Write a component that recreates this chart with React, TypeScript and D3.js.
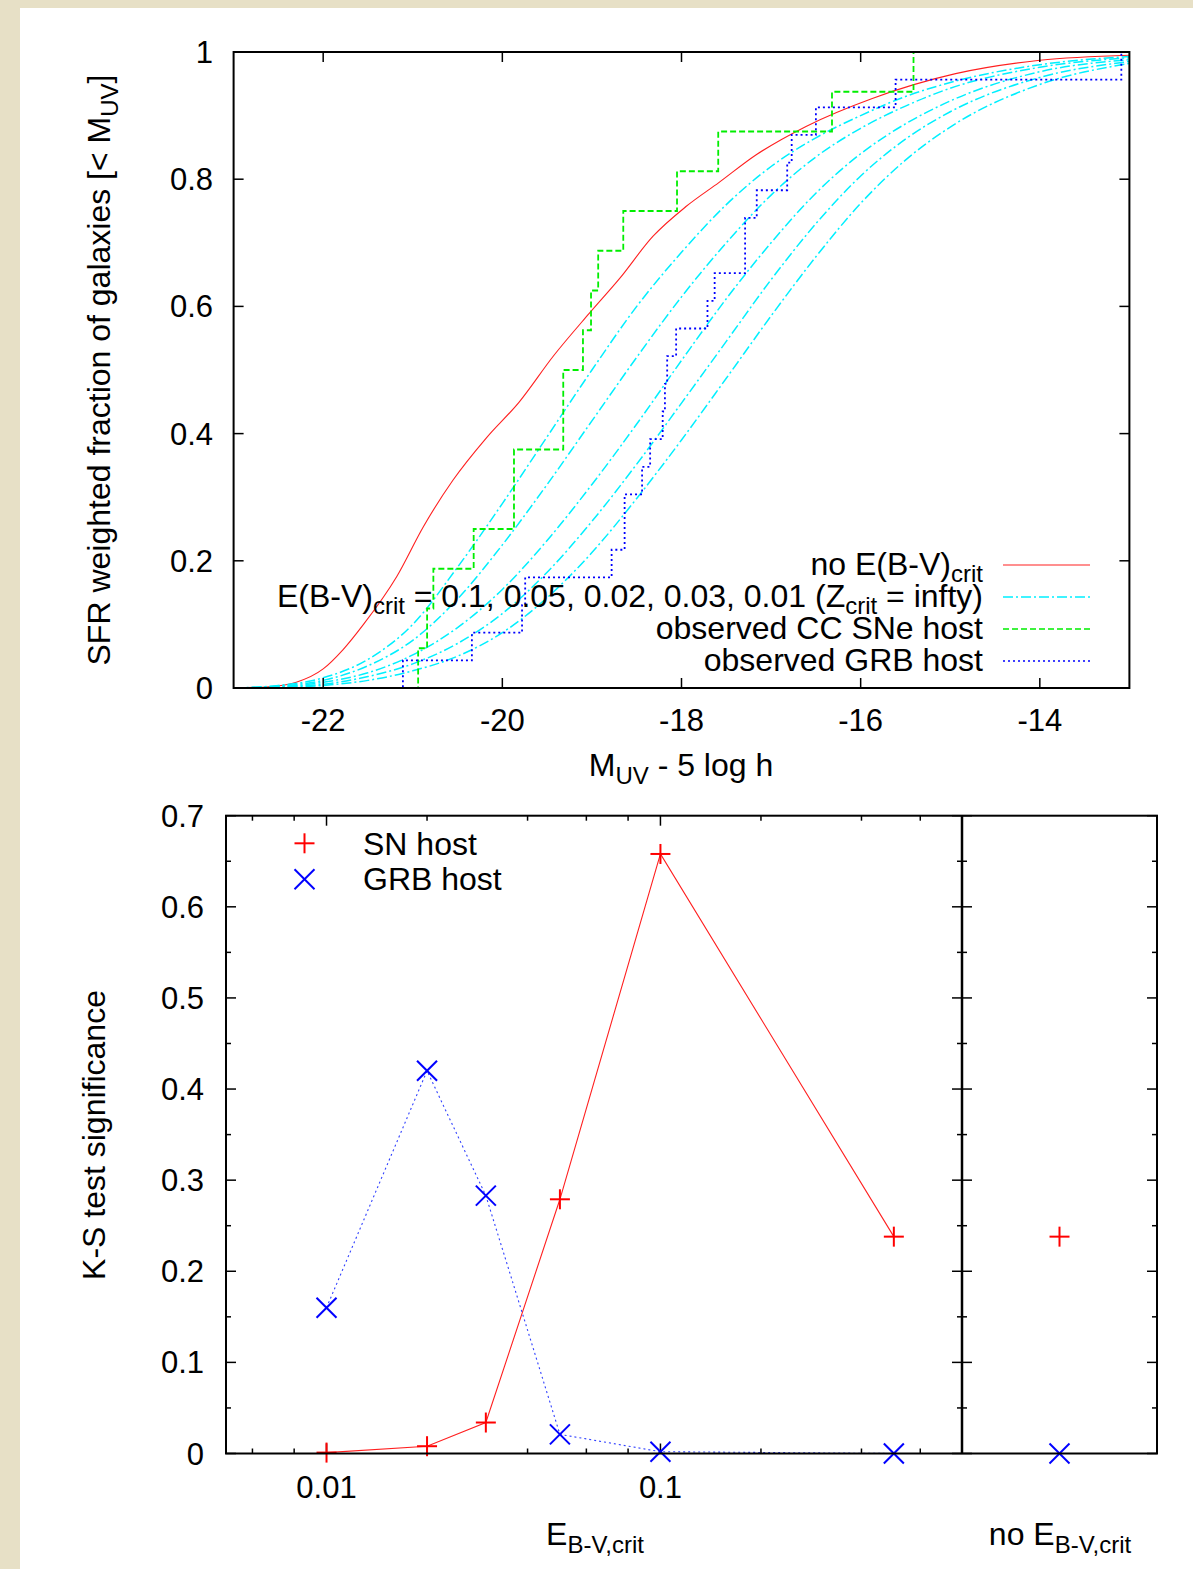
import React from "react";
import * as d3 from "d3";

// ---------- Top panel data ----------
const TOP_X_TICKS = [-22, -20, -18, -16, -14];
const TOP_X_TICK_LABELS = ["-22", "-20", "-18", "-16", "-14"];
const TOP_Y_TICKS = [0, 0.2, 0.4, 0.6, 0.8, 1];
const TOP_Y_TICK_LABELS = ["0", "0.2", "0.4", "0.6", "0.8", "1"];

// no E(B-V)crit (red)
const RED_CURVE: [number, number][] = [
  [-23, 0], [-22.6, 0.002], [-22.3, 0.009], [-22.0, 0.03], [-21.78, 0.06], [-21.55, 0.1],
  [-21.18, 0.175], [-20.88, 0.254], [-20.55, 0.327], [-20.18, 0.393], [-19.81, 0.45],
  [-19.43, 0.522], [-19.03, 0.589], [-18.69, 0.644], [-18.32, 0.71], [-17.95, 0.757],
  [-17.58, 0.795], [-17.17, 0.838], [-16.61, 0.883], [-15.87, 0.927], [-14.94, 0.966],
  [-14.0, 0.987], [-13, 0.995],
];

// E(B-V)crit = 0.1, 0.05, 0.02, 0.03, 0.01 (cyan)
const CYAN_1: [number, number][] = [
  [-23, 0], [-22.5, 0.004], [-22, 0.016], [-21.5, 0.045], [-21, 0.1], [-20.5, 0.19], [-20, 0.29],
  [-19.5, 0.395], [-19, 0.5], [-18.5, 0.6], [-18, 0.685], [-17.5, 0.76], [-17, 0.82], [-16.5, 0.865],
  [-16, 0.9], [-15.5, 0.93], [-15, 0.952], [-14, 0.98], [-13, 0.993],
];
const CYAN_2: [number, number][] = [
  [-23, 0], [-22.5, 0.003], [-22, 0.012], [-21.5, 0.035], [-21, 0.075], [-20.5, 0.14], [-20, 0.225],
  [-19.5, 0.32], [-19, 0.42], [-18.5, 0.52], [-18, 0.615], [-17.5, 0.7], [-17, 0.775], [-16.5, 0.835],
  [-16, 0.88], [-15.5, 0.915], [-15, 0.943], [-14, 0.976], [-13, 0.991],
];
const CYAN_3: [number, number][] = [
  [-23, 0], [-22.5, 0.002], [-22, 0.009], [-21.5, 0.024], [-21, 0.052], [-20.5, 0.095], [-20, 0.155],
  [-19.5, 0.232], [-19, 0.32], [-18.5, 0.415], [-18, 0.515], [-17.5, 0.612], [-17, 0.7], [-16.5, 0.778],
  [-16, 0.84], [-15.5, 0.887], [-15, 0.923], [-14, 0.969], [-13, 0.988],
];
const CYAN_4: [number, number][] = [
  [-23, 0], [-22.5, 0.002], [-22, 0.006], [-21.5, 0.018], [-21, 0.038], [-20.5, 0.07], [-20, 0.117],
  [-19.5, 0.182], [-19, 0.262], [-18.5, 0.352], [-18, 0.448], [-17.5, 0.545], [-17, 0.642], [-16.5, 0.73],
  [-16, 0.805], [-15.5, 0.863], [-15, 0.906], [-14, 0.96], [-13, 0.985],
];
const CYAN_5: [number, number][] = [
  [-23, 0], [-22.5, 0.001], [-22, 0.004], [-21.5, 0.012], [-21, 0.027], [-20.5, 0.05], [-20, 0.087],
  [-19.5, 0.142], [-19, 0.213], [-18.5, 0.298], [-18, 0.39], [-17.5, 0.487], [-17, 0.585], [-16.5, 0.678],
  [-16, 0.762], [-15.5, 0.83], [-15, 0.882], [-14, 0.949], [-13, 0.982],
];
const CYAN_CURVES = [CYAN_1, CYAN_2, CYAN_3, CYAN_4, CYAN_5];

// observed CC SNe host (green steps) : [magnitude of step, cumulative fraction after step]
const SN_STEPS: [number, number][] = [
  [-23, 0], [-20.94, 0.0625], [-20.84, 0.125], [-20.77, 0.1875], [-20.32, 0.25], [-19.87, 0.375],
  [-19.32, 0.5], [-19.10, 0.5625], [-19.01, 0.625], [-18.93, 0.6875], [-18.65, 0.75],
  [-18.05, 0.8125], [-17.59, 0.875], [-16.32, 0.9375], [-15.41, 1.0], [-13, 1.0],
];

// observed GRB host (blue steps)
const GRB_STEPS: [number, number][] = [
  [-23, 0], [-21.11, 1 / 23], [-20.34, 2 / 23], [-19.78, 3 / 23], [-19.745, 4 / 23], [-18.78, 5 / 23],
  [-18.635, 7 / 23], [-18.44, 8 / 23], [-18.35, 9 / 23], [-18.21, 10 / 23], [-18.185, 11 / 23],
  [-18.16, 12 / 23], [-18.06, 13 / 23], [-17.71, 14 / 23], [-17.63, 15 / 23], [-17.29, 17 / 23],
  [-17.16, 18 / 23], [-16.82, 19 / 23], [-16.77, 20 / 23], [-16.5, 21 / 23], [-15.61, 22 / 23],
  [-13.09, 1.0], [-13, 1.0],
];

// ---------- Bottom panel data ----------
const EBV_CRIT = [0.01, 0.02, 0.03, 0.05, 0.1, 0.5];
const KS_SN = [0.001, 0.008, 0.034, 0.279, 0.658, 0.238];
const KS_GRB = [0.16, 0.42, 0.283, 0.021, 0.002, 0.0];
const NO_CRIT_CATEGORY = ["no"];
const KS_SN_NOCRIT = [0.238];
const KS_GRB_NOCRIT = [0.0];
const BOT_Y_TICKS = [0, 0.1, 0.2, 0.3, 0.4, 0.5, 0.6, 0.7];
const BOT_Y_TICK_LABELS = ["0", "0.1", "0.2", "0.3", "0.4", "0.5", "0.6", "0.7"];
const BOT_X_MAJOR = [0.01, 0.1];
const BOT_X_MAJOR_LABELS = ["0.01", "0.1"];
const BOT_X_MINOR = [0.006, 0.008, 0.02, 0.04, 0.06, 0.08, 0.2, 0.4, 0.6];

const FONT = "'Liberation Sans', Arial, Helvetica, sans-serif";
const FS = 31;
const FT = 32;
const SUB = 24;

export default function App() {
  // Top panel geometry
  const tL = 233.6, tR = 1129.4, tT = 52, tB = 688;
  const xT = d3.scaleLinear().domain([-23, -13]).range([tL, tR]);
  const yT = d3.scaleLinear().domain([0, 1]).range([tB, tT]);

  // Bottom panel geometry
  const bL = 226, bD = 962, bR = 1157, bT = 815.7, bB = 1453.5;
  const xB = d3.scaleLog().domain([0.005, 0.8]).range([bL, bD]);
  const xN = d3.scalePoint<string>().domain(NO_CRIT_CATEGORY).range([bD, bR]).padding(0.5);
  const yB = d3.scaleLinear().domain([0, 0.7]).range([bB, bT]);

  const smooth = d3.line<[number, number]>().x((d) => xT(d[0])).y((d) => yT(d[1])).curve(d3.curveMonotoneX);
  const step = d3.line<[number, number]>().x((d) => xT(d[0])).y((d) => yT(d[1])).curve(d3.curveStepAfter);
  const ksLine = d3.line<number>().x((_, i) => xB(EBV_CRIT[i])).y((d) => yB(d));

  const minorY: number[] = d3.range(0, 0.7001, 0.05);

  const plus = (cx: number, cy: number, key: string, s = 10) => (
    <g key={key} stroke="#ff0000" strokeWidth={2}>
      <line x1={cx - s} y1={cy} x2={cx + s} y2={cy} />
      <line x1={cx} y1={cy - s} x2={cx} y2={cy + s} />
    </g>
  );
  const cross = (cx: number, cy: number, key: string, s = 10) => (
    <g key={key} stroke="#0000ff" strokeWidth={2}>
      <line x1={cx - s} y1={cy - s} x2={cx + s} y2={cy + s} />
      <line x1={cx - s} y1={cy + s} x2={cx + s} y2={cy - s} />
    </g>
  );

  const legendX = 983;
  const legendLine0 = 1003, legendLine1 = 1090;
  const legendRows = [565, 597, 629, 661];

  return (
    <svg
      width={1193}
      height={1569}
      style={{ position: "absolute", left: 0, top: 0 }}
      fontFamily={FONT}
    >
      <rect x={0} y={0} width={1193} height={1569} fill="#e7e0c6" />
      <rect x={20} y={8} width={1173} height={1561} fill="#ffffff" />

      <defs>
        <clipPath id="topClip">
          <rect x={tL} y={tT} width={tR - tL} height={tB - tT} />
        </clipPath>
        <clipPath id="botClip">
          <rect x={bL} y={bT - 15} width={bD - bL} height={bB - bT + 30} />
        </clipPath>
      </defs>

      {/* ================= TOP PANEL ================= */}
      <g clipPath="url(#topClip)" fill="none">
        <path d={smooth(RED_CURVE) || ""} stroke="#ff2020" strokeWidth={1.1} />
        {CYAN_CURVES.map((c, i) => (
          <path key={i} d={smooth(c) || ""} stroke="#00f0ff" strokeWidth={1.5} strokeDasharray="10,3,2,3" />
        ))}
        <path d={step(SN_STEPS) || ""} stroke="#00ee00" strokeWidth={1.8} strokeDasharray="6,3" />
        <path d={step(GRB_STEPS) || ""} stroke="#0000ff" strokeWidth={1.8} strokeDasharray="2,3" />
      </g>

      {/* ticks */}
      <g stroke="#000" strokeWidth={1.5}>
        {TOP_X_TICKS.map((t) => (
          <g key={"tx" + t}>
            <line x1={xT(t)} x2={xT(t)} y1={tB} y2={tB - 10} />
            <line x1={xT(t)} x2={xT(t)} y1={tT} y2={tT + 10} />
          </g>
        ))}
        {TOP_Y_TICKS.map((t) => (
          <g key={"ty" + t}>
            <line x1={tL} x2={tL + 10} y1={yT(t)} y2={yT(t)} />
            <line x1={tR} x2={tR - 10} y1={yT(t)} y2={yT(t)} />
          </g>
        ))}
      </g>
      <rect x={tL} y={tT} width={tR - tL} height={tB - tT} fill="none" stroke="#000" strokeWidth={2} />

      {/* tick labels */}
      <g fontSize={FS} fill="#000">
        {TOP_Y_TICKS.map((t, i) => (
          <text key={"tyl" + t} x={213} y={yT(t) + 11} textAnchor="end">{TOP_Y_TICK_LABELS[i]}</text>
        ))}
        {TOP_X_TICKS.map((t, i) => (
          <text key={"txl" + t} x={xT(t)} y={731} textAnchor="middle">{TOP_X_TICK_LABELS[i]}</text>
        ))}
      </g>
      <g fontSize={FT} fill="#000">
        <text x={681} y={776} textAnchor="middle">
          M<tspan fontSize={SUB} dy={8}>UV</tspan><tspan dy={-8}> - 5 log h</tspan>
        </text>
        <text transform={`translate(110,370) rotate(-90)`} textAnchor="middle">
          SFR weighted fraction of galaxies [&lt; M<tspan fontSize={SUB} dy={8}>UV</tspan><tspan dy={-8}>]</tspan>
        </text>
      </g>

      {/* legend */}
      <g fontSize={FT} fill="#000" textAnchor="end">
        <text x={legendX} y={legendRows[0] + 10}>
          no E(B-V)<tspan fontSize={SUB} dy={7}>crit</tspan>
        </text>
        <text x={legendX} y={legendRows[1] + 10}>
          E(B-V)<tspan fontSize={SUB} dy={7}>crit</tspan><tspan dy={-7}> = 0.1, 0.05, 0.02, 0.03, 0.01 (Z</tspan>
          <tspan fontSize={SUB} dy={7}>crit</tspan><tspan dy={-7}> = infty)</tspan>
        </text>
        <text x={legendX} y={legendRows[2] + 10}>observed CC SNe host</text>
        <text x={legendX} y={legendRows[3] + 10}>observed GRB host</text>
      </g>
      <g fill="none">
        <line x1={legendLine0} x2={legendLine1} y1={legendRows[0]} y2={legendRows[0]} stroke="#ff2020" strokeWidth={1.1} />
        <line x1={legendLine0} x2={legendLine1} y1={legendRows[1]} y2={legendRows[1]} stroke="#00f0ff" strokeWidth={1.5} strokeDasharray="10,3,2,3" />
        <line x1={legendLine0} x2={legendLine1} y1={legendRows[2]} y2={legendRows[2]} stroke="#00ee00" strokeWidth={1.5} strokeDasharray="6,3" />
        <line x1={legendLine0} x2={legendLine1} y1={legendRows[3]} y2={legendRows[3]} stroke="#0000ff" strokeWidth={1.5} strokeDasharray="2,3" />
      </g>

      {/* ================= BOTTOM PANEL ================= */}
      <g stroke="#000" strokeWidth={1.5}>
        {minorY.map((v, i) => {
          const major = i % 2 === 0;
          const L = major ? 10 : 5;
          const y = yB(v);
          return (
            <g key={"by" + i}>
              <line x1={bL} x2={bL + L} y1={y} y2={y} />
              <line x1={bD - L} x2={bD + L} y1={y} y2={y} />
              <line x1={bR} x2={bR - L} y1={y} y2={y} />
            </g>
          );
        })}
        {BOT_X_MAJOR.map((v) => (
          <g key={"bxM" + v}>
            <line x1={xB(v)} x2={xB(v)} y1={bB} y2={bB - 10} />
            <line x1={xB(v)} x2={xB(v)} y1={bT} y2={bT + 10} />
          </g>
        ))}
        {BOT_X_MINOR.map((v) => (
          <g key={"bxm" + v}>
            <line x1={xB(v)} x2={xB(v)} y1={bB} y2={bB - 5} />
            <line x1={xB(v)} x2={xB(v)} y1={bT} y2={bT + 5} />
          </g>
        ))}
      </g>

      <g clipPath="url(#botClip)" fill="none">
        <path d={ksLine(KS_SN) || ""} stroke="#ff2020" strokeWidth={1.1} />
        <path d={ksLine(KS_GRB) || ""} stroke="#3040ff" strokeWidth={1.1} strokeDasharray="2,3" />
      </g>
      {KS_SN.map((v, i) => plus(xB(EBV_CRIT[i]), yB(v), "sn" + i))}
      {KS_GRB.map((v, i) => cross(xB(EBV_CRIT[i]), yB(v), "grb" + i))}
      {KS_SN_NOCRIT.map((v, i) => plus(xN(NO_CRIT_CATEGORY[i]) as number, yB(v), "snn" + i))}
      {KS_GRB_NOCRIT.map((v, i) => cross(xN(NO_CRIT_CATEGORY[i]) as number, yB(v), "grbn" + i))}

      <rect x={bL} y={bT} width={bR - bL} height={bB - bT} fill="none" stroke="#000" strokeWidth={2} />
      <line x1={bD} x2={bD} y1={bT} y2={bB} stroke="#000" strokeWidth={2.5} />

      <g fontSize={FS} fill="#000">
        {BOT_Y_TICKS.map((t, i) => (
          <text key={"byl" + t} x={204} y={yB(t) + 11} textAnchor="end">{BOT_Y_TICK_LABELS[i]}</text>
        ))}
        {BOT_X_MAJOR.map((t, i) => (
          <text key={"bxl" + t} x={xB(t)} y={1498} textAnchor="middle">{BOT_X_MAJOR_LABELS[i]}</text>
        ))}
      </g>
      <g fontSize={FT} fill="#000">
        <text x={595} y={1545} textAnchor="middle">
          E<tspan fontSize={SUB} dy={8}>B-V,crit</tspan>
        </text>
        <text x={1060} y={1545} textAnchor="middle">
          no E<tspan fontSize={SUB} dy={8}>B-V,crit</tspan>
        </text>
        <text transform={`translate(105,1135) rotate(-90)`} textAnchor="middle">K-S test significance</text>
      </g>

      {/* bottom legend */}
      {plus(304.5, 843.3, "legsn")}
      {cross(304.5, 879.3, "leggrb")}
      <g fontSize={FT} fill="#000">
        <text x={363} y={855}>SN host</text>
        <text x={363} y={890}>GRB host</text>
      </g>
    </svg>
  );
}
